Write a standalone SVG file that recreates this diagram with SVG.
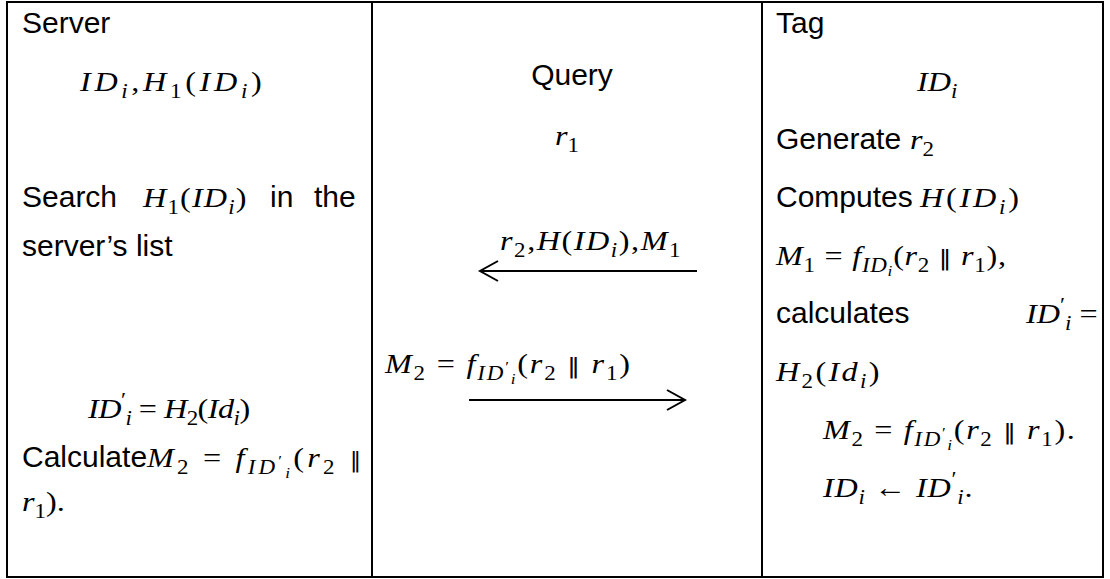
<svg xmlns="http://www.w3.org/2000/svg" width="1110" height="579" viewBox="0 0 1110 579">
<defs>
<style>
.t{font-family:"Liberation Sans",Arial,sans-serif;font-size:30px;fill:#000}
.m{font-family:"Liberation Serif","Times New Roman",serif;font-size:28px;font-style:italic;fill:#000}
.u{font-style:normal}
.s{font-size:20px}
.ss{font-size:15px}
.b{font-family:"DejaVu Sans",sans-serif;font-style:normal;font-size:22px}
.grid{fill:none;stroke:#000;stroke-width:2}
.conn{stroke:#000;stroke-width:2;fill:none}
</style>
<marker id="chev" markerUnits="userSpaceOnUse" markerWidth="24" markerHeight="24" refX="19" refY="11" orient="auto" viewBox="0 0 24 24">
<path d="M1,1 L19,11 L1,21" fill="none" stroke="#000" stroke-width="2"/>
</marker>
</defs>
<rect width="1110" height="579" fill="#fff"/>
<g id="table">
<rect class="grid" x="7" y="2" width="1096" height="575"/>
<line class="grid" x1="372" y1="2" x2="372" y2="577"/>
<line class="grid" x1="762" y1="2" x2="762" y2="577"/>
</g>
<g id="server">
<text class="t" x="22" y="33">Server</text>
<text class="m" transform="translate(80,91) scale(1.15,1)" textLength="158" lengthAdjust="spacing">ID<tspan class="s" dy="7">i</tspan><tspan class="u" dy="-7">,</tspan>H<tspan class="s u" dy="7">1</tspan><tspan class="u" dy="-7">(</tspan>ID<tspan class="s" dy="7">i</tspan><tspan class="u" dy="-7">)</tspan></text>
<text class="t" x="22" y="207">Search</text>
<text class="m" transform="translate(143,207) scale(1.15,1)" textLength="90" lengthAdjust="spacing">H<tspan class="s u" dy="7">1</tspan><tspan class="u" dy="-7">(</tspan>ID<tspan class="s" dy="7">i</tspan><tspan class="u" dy="-7">)</tspan></text>
<text class="t" x="270" y="207">in</text>
<text class="t" x="314" y="207">the</text>
<text class="t" x="22" y="256">server’s list</text>
<text class="m" transform="translate(88,418) scale(1.15,1)" textLength="141" lengthAdjust="spacing">ID<tspan class="s u" dy="-11">′</tspan><tspan class="s" dy="18">i</tspan><tspan class="u" dy="-7"> = </tspan>H<tspan class="s u" dy="7">2</tspan><tspan class="u" dy="-7">(</tspan>Id<tspan class="s" dy="7">i</tspan><tspan class="u" dy="-7">)</tspan></text>
<text class="t" x="22" y="467">Calculate</text>
<text class="m" transform="translate(147,467) scale(1.15,1)" textLength="163" lengthAdjust="spacing">M<tspan class="s u" dy="7">2</tspan><tspan class="u" dy="-7"> = </tspan>f<tspan class="s" dy="7">ID</tspan><tspan class="ss u" dy="-8">′</tspan><tspan class="ss" dy="12">i</tspan><tspan class="u" dy="-11">(</tspan>r<tspan class="s u" dy="7">2</tspan></text>
<text class="t b" x="350" y="467">‖</text>
<text class="m" transform="translate(22,511) scale(1.15,1)">r<tspan class="s u" dy="7">1</tspan><tspan class="u" dy="-7">).</tspan></text>
</g>
<g id="channel">
<text class="t" x="572" y="85" text-anchor="middle">Query</text>
<text class="m" transform="translate(555,145) scale(1.15,1)">r<tspan class="s u" dy="7">1</tspan></text>
<text class="m" transform="translate(500,250) scale(1.15,1)" textLength="157" lengthAdjust="spacing">r<tspan class="s u" dy="7">2</tspan><tspan class="u" dy="-7">,</tspan>H<tspan class="u">(</tspan>ID<tspan class="s" dy="7">i</tspan><tspan class="u" dy="-7">),</tspan>M<tspan class="s u" dy="7">1</tspan></text>
<text class="m" transform="translate(385,373) scale(1.15,1)" textLength="213" lengthAdjust="spacing">M<tspan class="s u" dy="7">2</tspan><tspan class="u" dy="-7"> = </tspan>f<tspan class="s" dy="7">ID</tspan><tspan class="ss u" dy="-8">′</tspan><tspan class="ss" dy="12">i</tspan><tspan class="u" dy="-11">(</tspan>r<tspan class="s u" dy="7">2</tspan><tspan class="b" dy="-7"> ‖ </tspan>r<tspan class="s u" dy="7">1</tspan><tspan class="u" dy="-7">)</tspan></text>
</g>
<g id="tag">
<text class="t" x="776" y="33">Tag</text>
<text class="m" transform="translate(917,91) scale(1.15,1)">ID<tspan class="s" dy="7">i</tspan></text>
<text class="t" x="776" y="149">Generate</text>
<text class="m" transform="translate(910,149) scale(1.15,1)">r<tspan class="s u" dy="7">2</tspan></text>
<text class="t" x="776" y="207">Computes</text>
<text class="m" transform="translate(920,207) scale(1.15,1)" textLength="86" lengthAdjust="spacing">H<tspan class="u">(</tspan>ID<tspan class="s" dy="7">i</tspan><tspan class="u" dy="-7">)</tspan></text>
<text class="m" transform="translate(776,265) scale(1.15,1)" textLength="200" lengthAdjust="spacing">M<tspan class="s u" dy="7">1</tspan><tspan class="u" dy="-7"> = </tspan>f<tspan class="s" dy="7">ID</tspan><tspan class="ss" dy="4">i</tspan><tspan class="u" dy="-11">(</tspan>r<tspan class="s u" dy="7">2</tspan><tspan class="b" dy="-7"> ‖ </tspan>r<tspan class="s u" dy="7">1</tspan><tspan class="u" dy="-7">),</tspan></text>
<text class="t" x="776" y="323">calculates</text>
<text class="m" transform="translate(1026,323) scale(1.15,1)">ID<tspan class="s u" dy="-11">′</tspan><tspan class="s" dy="18">i</tspan><tspan class="u" dy="-7"> =</tspan></text>
<text class="m" transform="translate(776,381) scale(1.15,1)" textLength="90" lengthAdjust="spacing">H<tspan class="s u" dy="7">2</tspan><tspan class="u" dy="-7">(</tspan>Id<tspan class="s" dy="7">i</tspan><tspan class="u" dy="-7">)</tspan></text>
<text class="m" transform="translate(823,439) scale(1.15,1)" textLength="219" lengthAdjust="spacing">M<tspan class="s u" dy="7">2</tspan><tspan class="u" dy="-7"> = </tspan>f<tspan class="s" dy="7">ID</tspan><tspan class="ss u" dy="-8">′</tspan><tspan class="ss" dy="12">i</tspan><tspan class="u" dy="-11">(</tspan>r<tspan class="s u" dy="7">2</tspan><tspan class="b" dy="-7"> ‖ </tspan>r<tspan class="s u" dy="7">1</tspan><tspan class="u" dy="-7">).</tspan></text>
<text class="m" transform="translate(823,497) scale(1.15,1)" textLength="130" lengthAdjust="spacing">ID<tspan class="s" dy="7">i</tspan><tspan class="u" dy="-7"> ← </tspan>ID<tspan class="s u" dy="-11">′</tspan><tspan class="s" dy="18">i</tspan><tspan class="u" dy="-7">.</tspan></text>
</g>
<g id="connectors">
<line class="conn" x1="697" y1="271" x2="480" y2="271" marker-end="url(#chev)"/>
<line class="conn" x1="469" y1="400" x2="685" y2="400" marker-end="url(#chev)"/>
</g>
</svg>
